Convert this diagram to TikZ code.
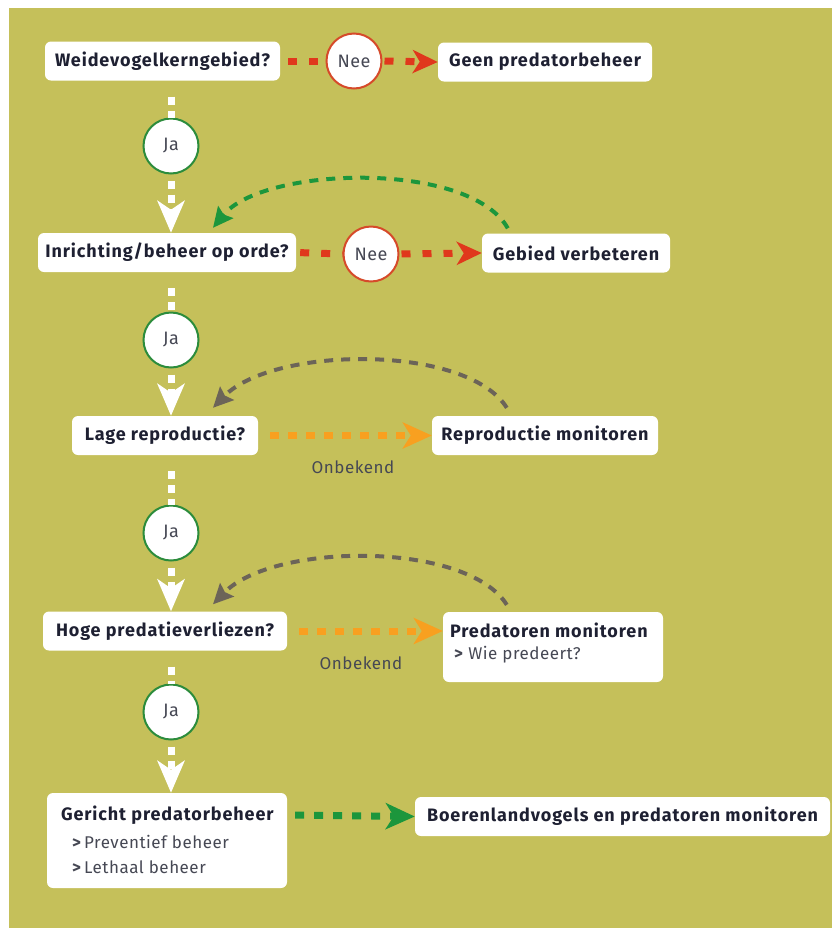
\documentclass[tikz,border=0pt]{standalone}
\usepackage{fontspec}
\setmainfont{Fira Sans}
\newfontfamily\boldface[LetterSpace=5]{Fira Sans Bold}
\newfontfamily\plainface[LetterSpace=3]{Fira Sans}
\usetikzlibrary{arrows.meta}
\definecolor{olivebg}{RGB}{197,192,90}
\definecolor{redc}{RGB}{224,56,28}
\definecolor{orangec}{RGB}{248,160,32}
\definecolor{greenc}{RGB}{28,150,60}
\definecolor{greyc}{RGB}{108,100,88}
\definecolor{navy}{RGB}{30,32,50}
\definecolor{txtgrey}{RGB}{70,72,84}
\definecolor{ringred}{RGB}{214,74,42}
\definecolor{ringgreen}{RGB}{44,140,60}
\tikzset{
  box/.style={fill=white, rounded corners=6pt, inner sep=0pt, text=navy,
    font=\boldface\fontsize{18}{21}\selectfont, minimum height=39pt},
  boldtxt/.style={inner sep=0pt, text=navy, font=\boldface\fontsize{18}{21}\selectfont},
  nee/.style={circle, fill=white, draw=ringred, line width=2pt, minimum size=55pt,
    inner sep=0pt, text=txtgrey, font=\plainface\fontsize{18}{21}\selectfont},
  ja/.style={nee, draw=ringgreen},
  reddash/.style={draw=redc, line width=7pt, dash pattern=on 9pt off 12pt},
  orangedash/.style={draw=orangec, line width=7pt, dash pattern=on 9pt off 9pt},
  greendash/.style={draw=greenc, line width=7pt, dash pattern=on 9pt off 10pt},
  whitedash/.style={draw=white, line width=7pt, dash pattern=on 8pt off 6pt},
  curvegreen/.style={draw=greenc, line width=4pt, dash pattern=on 9pt off 8pt},
  curvegrey/.style={draw=greyc, line width=4pt, dash pattern=on 9pt off 8pt},
  redtip/.style={-{Stealth[length=25pt, width=23pt, inset=7pt]}},
  bigtip/.style={-{Stealth[length=29pt, width=26pt, inset=8pt]}},
  whitetip/.style={-{Stealth[length=32pt, width=27pt, inset=9pt]}},
  curvetip/.style={-{Stealth[length=20pt, width=19pt, inset=3pt]}},
  note/.style={text=txtgrey, font=\plainface\fontsize{17}{20}\selectfont, inner sep=0pt},
}
\begin{document}
\begin{tikzpicture}[x=1pt, y=-1pt]
\useasboundingbox (0,0) rectangle (832,930);
\fill[white] (0,0) rectangle (832,930);
\fill[olivebg] (9,8) rectangle (832,928);

% boxes
\node[box, minimum width=235pt] (q1) at (162.5,61) {Weidevogelkerngebied?};
\node[box, minimum width=214pt] (geen) at (545,62) {Geen predatorbeheer};
\node[box, minimum width=258pt] (q2) at (167,252.5) {Inrichting/beheer op orde?};
\node[box, minimum width=188pt] (gebied) at (576,253) {Gebied verbeteren};
\node[box, minimum width=186pt] (q3) at (165,435.5) {Lage reproductie?};
\node[box, minimum width=226pt] (repro) at (545,435.5) {Reproductie monitoren};
\node[box, minimum width=244pt] (q4) at (165,631) {Hoge predatieverliezen?};
\node[box, minimum width=220pt, minimum height=70pt] (pred) at (553,647) {};
\node[boldtxt, anchor=west] (predt) at ([xshift=7pt,yshift=17pt]pred.west) {Predatoren monitoren};
\node[note, anchor=west] (predw) at ([xshift=11pt,yshift=-8pt]pred.west) {\textbf{>} Wie predeert?};
\node[box, minimum width=240pt, minimum height=95pt] (q5) at (167,840.5) {};
\node[boldtxt, anchor=west] (q5t) at ([xshift=14pt,yshift=25.5pt]q5.west) {Gericht predatorbeheer};
\node[note, anchor=west] (q5a) at ([xshift=25pt,yshift=-1.5pt]q5.west) {\textbf{>}\,Preventief beheer};
\node[note, anchor=west] (q5b) at ([xshift=25pt,yshift=-26.5pt]q5.west) {\textbf{>}\,Lethaal beheer};
\node[box, minimum width=415pt] (boer) at (622.5,816.5) {Boerenlandvogels en predatoren monitoren};

% circles
\node[nee] (nee1) at (354,61) {Nee};
\node[nee] (nee2) at (371,254) {Nee};
\node[ja] (ja1) at (171,146) {Ja};
\node[ja] (ja2) at (171,340) {Ja};
\node[ja] (ja3) at (171,533) {Ja};
\node[ja] (ja4) at (171,712) {Ja};

% Nee arrows
\draw[reddash, shorten <=8pt] (q1.east) -- (nee1.west);
\draw[reddash, redtip, shorten <=2pt] (nee1.east) -- (geen.west);
\draw[reddash, shorten <=4pt] (q2.east) -- (nee2.west);
\draw[reddash, redtip, shorten <=2pt] (nee2.east) -- (gebied.west);

% Ja arrows (white)
\draw[whitedash, shorten <=16pt] ([xshift=8.5pt]q1.south) -- (ja1.north);
\draw[whitedash, whitetip, shorten <=6pt] (ja1.south) -- ([xshift=4pt]q2.north);
\draw[whitedash, shorten <=16pt] ([xshift=4pt]q2.south) -- (ja2.north);
\draw[whitedash, whitetip, shorten <=6pt] (ja2.south) -- ([xshift=6pt]q3.north);
\draw[whitedash, shorten <=16pt] ([xshift=6pt]q3.south) -- (ja3.north);
\draw[whitedash, whitetip, shorten <=6pt] (ja3.south) -- ([xshift=6pt]q4.north);
\draw[whitedash, shorten <=16pt] ([xshift=6pt]q4.south) -- (ja4.north);
\draw[whitedash, whitetip, shorten <=6pt] (ja4.south) -- ([xshift=4pt]q5.north);

% Onbekend arrows
\draw[orangedash, bigtip, shorten <=12pt] (q3.east) -- (repro.west);
\node[note] (onb1) at (353,467) {Onbekend};
\draw[orangedash, bigtip, shorten <=12pt] (q4.east) -- (pred.west |- q4.east);
\node[note] (onb2) at (361,663) {Onbekend};

% bottom green
\draw[greendash, bigtip, shorten <=8pt] (q5t.east -| q5.east) -- (boer.west);

% curved return arrows
\draw[curvegreen, curvetip] ([xshift=26pt,yshift=5pt]gebied.north west) .. controls +(-38,-68) and +(50,-62) .. ([xshift=46pt,yshift=5pt]q2.north);
\draw[curvegrey, curvetip] ([xshift=75pt,yshift=8pt]repro.north west) .. controls +(-40,-64) and +(60,-62) .. ([xshift=48pt,yshift=8pt]q3.north);
\draw[curvegrey, curvetip] ([xshift=64pt,yshift=7pt]pred.north west) .. controls +(-40,-64) and +(60,-62) .. ([xshift=48pt,yshift=7pt]q4.north);
\end{tikzpicture}
\end{document}
